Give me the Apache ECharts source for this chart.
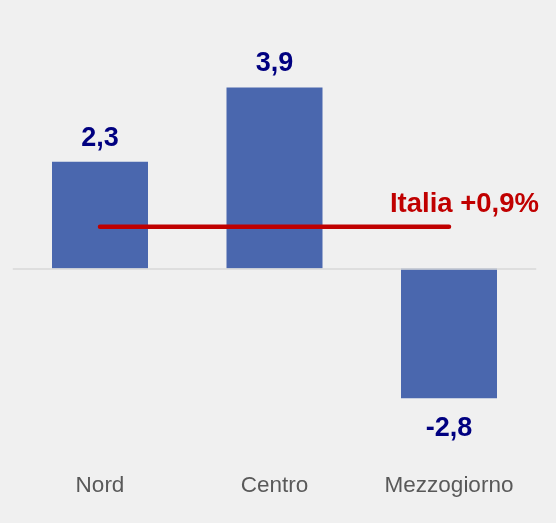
<!DOCTYPE html>
<html>
<head>
<meta charset="utf-8">
<script src="https://cdn.jsdelivr.net/npm/echarts@6/dist/echarts.min.js"></script>
<style>
html,body{margin:0;padding:0;background:#f0f0f0;}
#c{width:556px;height:523px;}
</style>
</head>
<body>
<div id="c"></div>
<script>
var categories = ['Nord', 'Centro', 'Mezzogiorno'];
var values = [2.3, 3.9, -2.8];
var italiaValue = 0.9;
var italiaLabel = 'Italia';

function fmt(v){ return String(v).replace('.', ','); }

var chart = echarts.init(document.getElementById('c'));
chart.setOption({
  backgroundColor: '#f0f0f0',
  animation: false,
  title: {
    text: italiaLabel + ' +' + fmt(italiaValue) + '%',
    right: 17, top: 190, padding: 0,
    textStyle: { color: '#c00000', fontSize: 27.5, fontWeight: 'bold', fontFamily: 'Liberation Sans' }
  },
  grid: { left: 12.75, right: 19.75, top: 36.5, height: 417.5, containLabel: false },
  xAxis: {
    type: 'category', data: categories,
    axisLine: { show: false, onZero: false }, axisTick: { show: false },
    axisLabel: { color: '#595959', fontSize: 22.5, fontFamily: 'Liberation Sans', margin: 20 }
  },
  yAxis: {
    type: 'value', min: -4, max: 5, show: false, splitLine: { show: false }
  },
  series: [{
    type: 'bar', z: 2,
    data: values.map(function(v){
      return v < 0 ? { value: v, label: { position: 'bottom', distance: 17 } } : v;
    }),
    barWidth: 96,
    itemStyle: { color: '#4a67ae' },
    label: {
      show: true, position: 'top', distance: 10,
      color: '#000080', fontSize: 27, fontWeight: 'bold', fontFamily: 'Liberation Sans',
      formatter: function(p){ return fmt(p.value); }
    },
    markLine: {
      silent: true, symbol: 'none',
      label: { show: false },
      data: [
        { yAxis: 0, lineStyle: { color: '#d9d9d9', width: 1.5, type: 'solid' } }
      ]
    }
  }, {
    type: 'line', z: 5,
    data: categories.map(function(){ return italiaValue; }),
    symbol: 'none', silent: true,
    lineStyle: { color: '#c00000', width: 4.5, cap: 'round' }
  }]
});
</script>
</body>
</html>
